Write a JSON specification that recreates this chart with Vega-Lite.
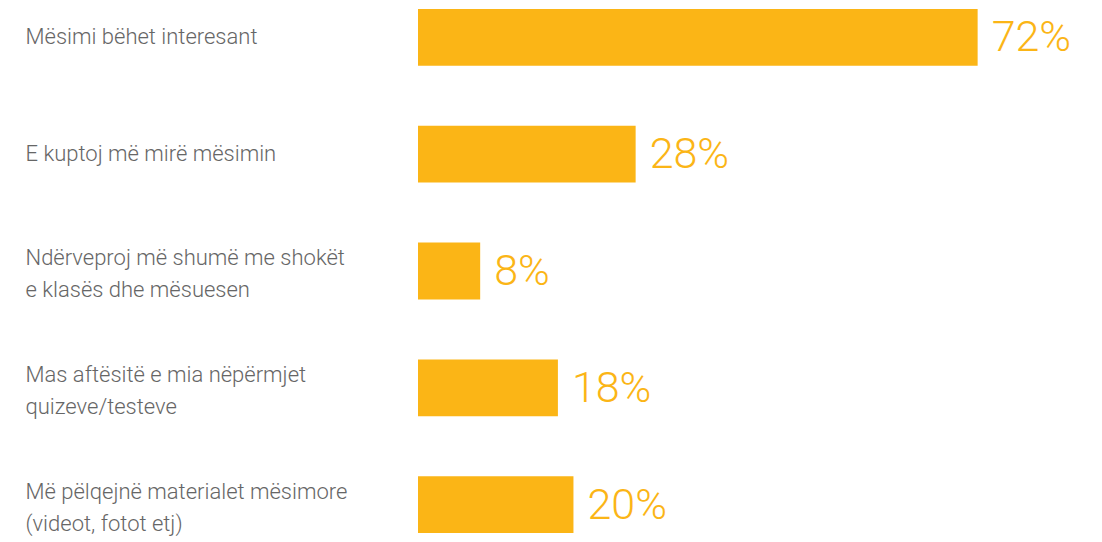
{
  "$schema": "https://vega.github.io/schema/vega-lite/v6.json",
  "autosize": {"type": "none"},
  "padding": {"left": 418, "top": 0, "right": 0, "bottom": 0},
  "width": 684,
  "height": 542,
  "background": "white",
  "config": {"view": {"stroke": null}},
  "data": {"values": [
    {"label": "Mësimi bëhet interesant", "value": 72, "pct": "72%", "order": 1},
    {"label": "E kuptoj më mirë mësimin", "value": 28, "pct": "28%", "order": 2},
    {"label": "Ndërveproj më shumë me shokët|e klasës dhe mësuesen", "value": 8, "pct": "8%", "order": 3},
    {"label": "Mas aftësitë e mia nëpërmjet|quizeve/testeve", "value": 18, "pct": "18%", "order": 4},
    {"label": "Më pëlqejnë materialet mësimore|(videot, fotot etj)", "value": 20, "pct": "20%", "order": 5}
  ]},
  "encoding": {
    "y": {
      "field": "label", "type": "nominal", "sort": {"field": "order"},
      "scale": {"paddingInner": 0.514, "paddingOuter": 0.077},
      "axis": {
        "title": null, "domain": false, "ticks": false, "labelAlign": "left",
        "labelPadding": 393, "labelFont": "Roboto", "labelFontWeight": 300,
        "labelFontSize": 22, "labelColor": "#666666", "labelLimit": 0,
        "labelLineHeight": 32, "labelBaseline": "middle",
        "labelOffset": {"condition": {"test": "indexof(datum.label, '|') >= 0", "value": -13}, "value": 0},
        "labelExpr": "split(datum.label, '|')"
      }
    },
    "x": {
      "field": "value", "type": "quantitative",
      "scale": {"domain": [0, 88]}, "axis": null
    }
  },
  "layer": [
    {"mark": {"type": "bar", "color": "#FBB516"}},
    {
      "mark": {"type": "text", "align": "left", "baseline": "middle", "dx": 14, "dy": 1,
        "font": "Roboto", "fontWeight": 300, "fontSize": 43, "color": "#FBB516"},
      "encoding": {"text": {"field": "pct", "type": "nominal"}}
    }
  ]
}
